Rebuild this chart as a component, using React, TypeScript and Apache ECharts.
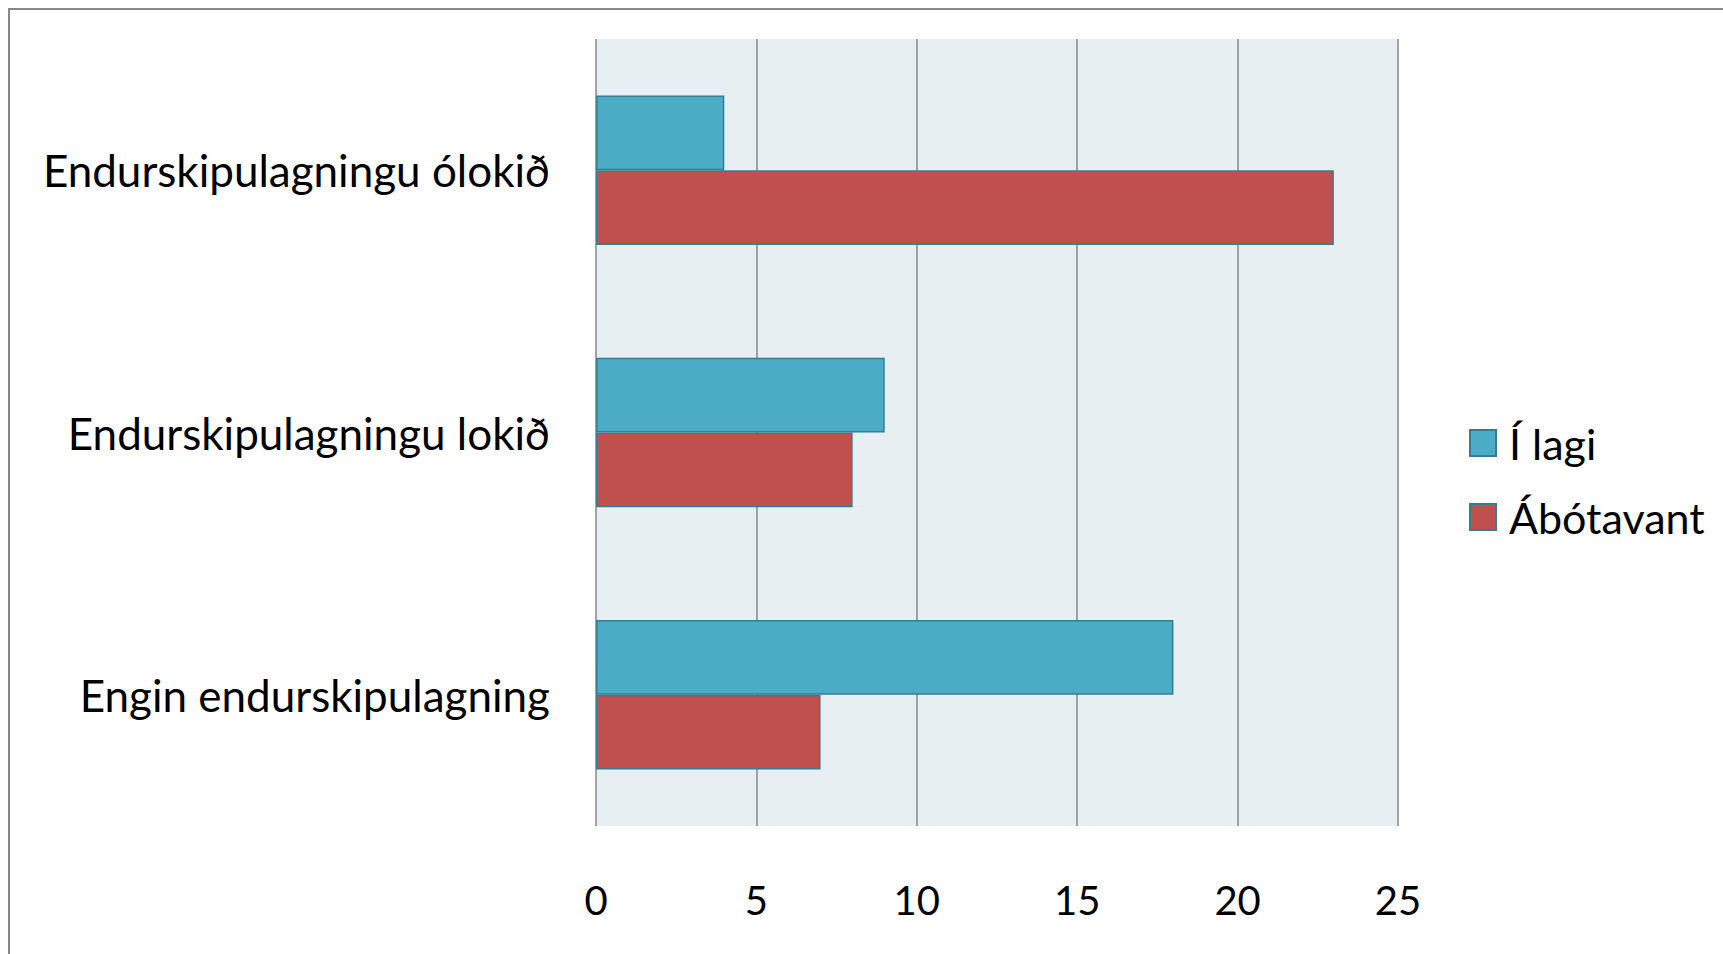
import React, { useEffect, useRef } from "react";
import * as echarts from "echarts";

const categories = ["Endurskipulagningu ólokið", "Endurskipulagningu lokið", "Engin endurskipulagning"];
const seriesNames = ["Í lagi", "Ábótavant"];
const iLagi = [4, 9, 18];
const abotavant = [23, 8, 7];
const xTicks = { min: 0, max: 25, interval: 5 };

const FONT = "Lato";

export default function App() {
  const ref = useRef<HTMLDivElement>(null);
  useEffect(() => {
    if (!ref.current) return;
    const chart = echarts.init(ref.current, undefined, { renderer: "svg" });
    chart.setOption({
      animation: false,
      backgroundColor: "#ffffff",
      textStyle: { fontFamily: FONT },
      graphic: [
        {
          type: "rect",
          z: -1,
          shape: { x: 9, y: 9, width: 1800, height: 1000 },
          style: { fill: "none", stroke: "#878787", lineWidth: 2 },
        },
      ],
      grid: {
        left: 596,
        top: 39,
        right: 325,
        bottom: 128,
        show: true,
        backgroundColor: "#E8EFF3",
        borderWidth: 0,
      },
      legend: {
        orient: "vertical",
        left: 1464,
        top: 416,
        itemWidth: 26,
        itemHeight: 26,
        itemGap: 30,
        icon: "rect",
        data: seriesNames,
        textStyle: { fontFamily: FONT, fontSize: 43, color: "#000", padding: [0, 0, 0, 8], lineHeight: 44 },
      },
      xAxis: {
        type: "value",
        min: xTicks.min,
        max: xTicks.max,
        interval: xTicks.interval,
        axisLine: { show: false },
        axisTick: { show: false },
        splitLine: { show: true, lineStyle: { color: "#868686", width: 1.5 } },
        axisLabel: { fontFamily: FONT, fontSize: 40, color: "#000", margin: 54 },
      },
      yAxis: {
        type: "category",
        inverse: true,
        data: categories,
        axisLine: { show: false },
        axisTick: { show: false },
        axisLabel: { fontFamily: FONT, fontSize: 44, color: "#000", margin: 46 },
      },
      series: [
        {
          name: seriesNames[0],
          type: "bar",
          data: iLagi,
          barGap: "0%",
          barCategoryGap: "43%",
          itemStyle: { color: "#4BACC6", borderColor: "#357D91", borderWidth: 1.5 },
        },
        {
          name: seriesNames[1],
          type: "bar",
          data: abotavant,
          barGap: "0%",
          barCategoryGap: "43%",
          itemStyle: { color: "#C0504D", borderColor: "#357D91", borderWidth: 1.5 },
        },
      ],
    });
    return () => chart.dispose();
  }, []);
  return (
    <div
      ref={ref}
      style={{ position: "fixed", left: 0, top: 0, width: 1723, height: 954 }}
    />
  );
}
